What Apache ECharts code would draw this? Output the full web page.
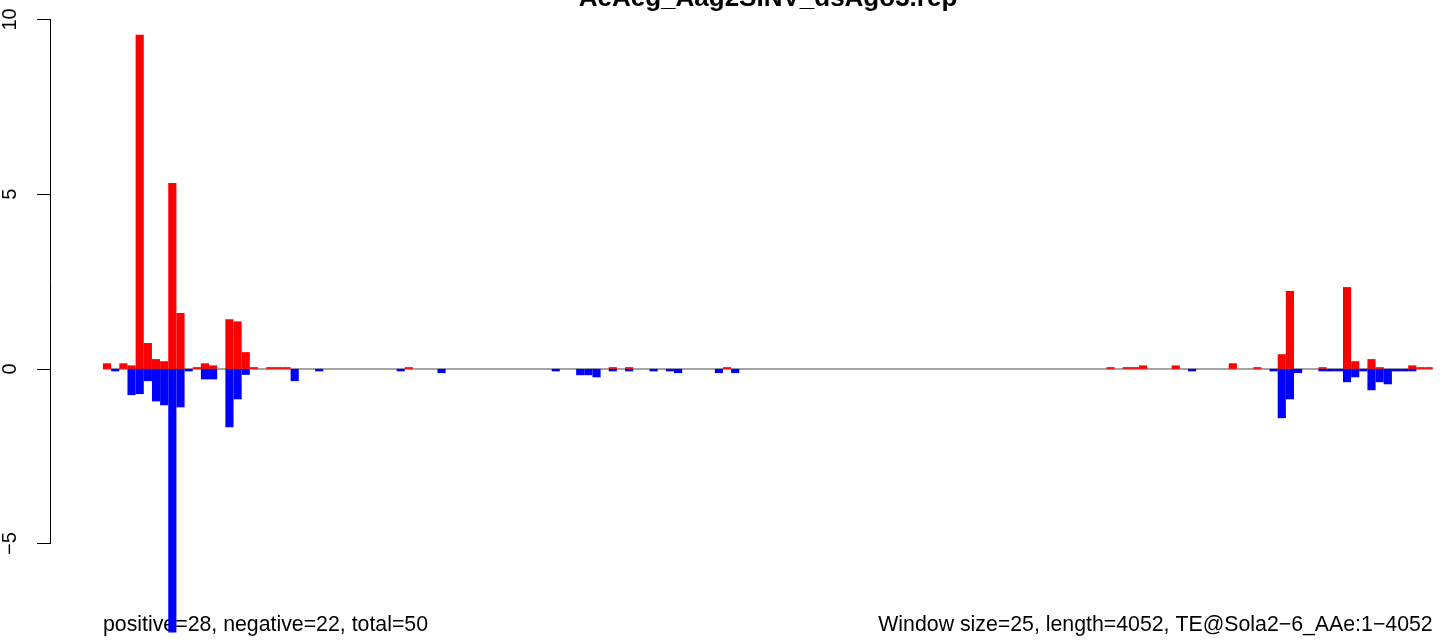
<!DOCTYPE html>
<html>
<head>
<meta charset="utf-8">
<script src="https://cdn.jsdelivr.net/npm/echarts@6/dist/echarts.min.js"></script>
<style>
  html, body { margin: 0; padding: 0; background: #ffffff; }
  #chart { width: 1444px; height: 644px; }
</style>
</head>
<body>
<div id="chart"></div>
<script>
// ---- data ----
const titleText = "AeAeg_Aag2SINV_dsAgo3.rep";
const leftNote = "positive=28, negative=22, total=50";
const rightNote = "Window size=25, length=4052, TE@Sola2\u22126_AAe:1\u22124052";
const nBins = 163;
const bins = Array.from({ length: nBins }, (_, i) => String(i + 1));
const yTicks = [-5, 0, 5, 10];

// positive (red) values by bin index
const positiveBins = [0, 2, 3, 4, 5, 6, 7, 8, 9, 11, 12, 13, 15, 16, 17, 18, 20, 21, 22,
  37, 62, 64, 76, 123, 125, 126, 127, 131, 138, 141, 144, 145, 149, 152, 153, 155, 156, 160, 161, 162];
const positiveVals = [0.16, 0.16, 0.10, 9.56, 0.74, 0.28, 0.22, 5.32, 1.60, 0.05, 0.16, 0.10, 1.42, 1.36, 0.48, 0.05, 0.05, 0.05, 0.05,
  0.05, 0.05, 0.05, 0.05, 0.05, 0.05, 0.05, 0.10, 0.10, 0.16, 0.05, 0.42, 2.23, 0.05, 2.34, 0.22, 0.28, 0.05, 0.10, 0.05, 0.05];

// negative (blue) values by bin index
const negativeBins = [1, 3, 4, 5, 6, 7, 8, 9, 10, 12, 13, 15, 16, 17, 23, 26, 36, 41, 55, 58, 59, 60, 62, 64, 67, 69, 70, 75, 77,
  133, 143, 144, 145, 146, 149, 150, 151, 152, 153, 154, 155, 156, 157, 158, 159, 160];
const negativeVals = [-0.07, -0.75, -0.72, -0.35, -0.93, -1.04, -7.54, -1.10, -0.07, -0.30, -0.30, -1.67, -0.87, -0.17, -0.35, -0.07, -0.07, -0.12, -0.07, -0.18, -0.18, -0.24, -0.07, -0.07, -0.07, -0.07, -0.12, -0.12, -0.12,
  -0.07, -0.07, -1.41, -0.87, -0.12, -0.07, -0.07, -0.07, -0.38, -0.24, -0.07, -0.61, -0.38, -0.44, -0.07, -0.07, -0.07];

function fill(idx, vals) {
  const arr = new Array(nBins).fill(0);
  idx.forEach((b, i) => { arr[b] = vals[i]; });
  return arr;
}
const posSeries = fill(positiveBins, positiveVals);
const negSeries = fill(negativeBins, negativeVals);

// ---- layout ----
const unitPx = 34.95;
const yTop = 19.4;          // pixel of value 10
const dataMin = -7.6, dataMax = 10;
const fontFam = '"Liberation Sans", Arial, Helvetica, sans-serif';

const chart = echarts.init(document.getElementById('chart'), null, { renderer: 'canvas' });
chart.setOption({
  animation: false,
  backgroundColor: '#ffffff',
  grid: [
    { left: 103, right: 11.3, top: yTop, height: (dataMax - dataMin) * unitPx },
    { left: 50.5, width: 10, top: yTop, height: (yTicks[yTicks.length - 1] - yTicks[0]) * unitPx }
  ],
  xAxis: [
    { gridIndex: 0, type: 'category', data: bins, show: false, boundaryGap: true },
    { gridIndex: 1, type: 'value', show: false, min: 0, max: 1 }
  ],
  yAxis: [
    { gridIndex: 0, type: 'value', min: dataMin, max: dataMax, show: false },
    {
      gridIndex: 1, type: 'value', min: yTicks[0], max: yTicks[yTicks.length - 1], interval: 5,
      position: 'left',
      axisLine: { show: true, lineStyle: { color: '#000', width: 1 } },
      axisTick: { show: true, length: 13.5, inside: false, lineStyle: { color: '#000', width: 1 } },
      splitLine: { show: false },
      axisLabel: {
        show: true, rotate: 90, margin: 30, color: '#000',
        fontFamily: fontFam, fontSize: 20,
        formatter: v => String(v).replace('-', '\u2212')
      }
    }
  ],
  series: [
    {
      name: 'positive', type: 'bar', xAxisIndex: 0, yAxisIndex: 0, z: 3,
      data: posSeries, barGap: '-100%', barCategoryGap: '0%',
      itemStyle: { color: '#ff0000' }, silent: true
    },
    {
      name: 'negative', type: 'bar', xAxisIndex: 0, yAxisIndex: 0, z: 3,
      data: negSeries, barGap: '-100%', barCategoryGap: '0%',
      itemStyle: { color: '#0000ff' }, silent: true,
      markLine: {
        silent: true, symbol: 'none', z: 1, label: { show: false },
        lineStyle: { color: '#a3a3a3', width: 2, type: 'solid' },
        data: [{ yAxis: 0 }]
      }
    }
  ],
  graphic: [
    { type: 'text', x: 768, y: -1, style: { text: titleText, font: 'bold 26px ' + fontFam, fill: '#000', align: 'center', verticalAlign: 'middle' } },
    { type: 'text', x: 103, y: 625, style: { text: leftNote, font: '21.3px ' + fontFam, fill: '#000', align: 'left', verticalAlign: 'middle' } },
    { type: 'text', x: 1432.7, y: 625, style: { text: rightNote, font: '21.3px ' + fontFam, fill: '#000', align: 'right', verticalAlign: 'middle' } }
  ]
});
</script>
</body>
</html>
